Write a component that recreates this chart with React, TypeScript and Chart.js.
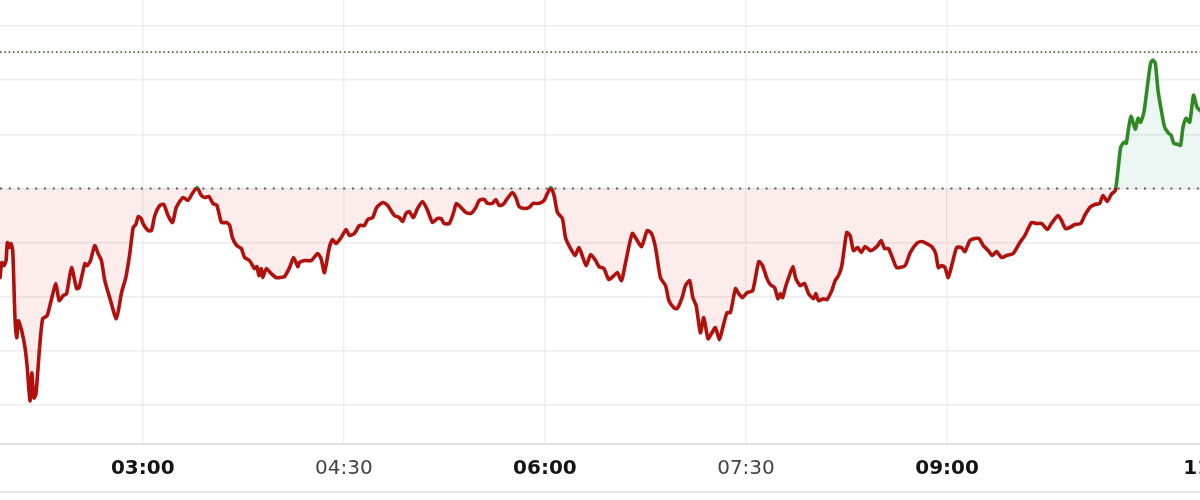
import { useEffect, useRef } from "react";
import { Chart, registerables } from "chart.js";

Chart.register(...registerables);

// time of day in minutes since midnight
const TIMES = [
  116.1, 116.9, 117.9, 118.8, 119.4, 120.3, 121.0, 121.8, 122.8, 123.6, 124.3, 125.8, 127.3, 128.3, 129.5, 130.3,
  131.3, 132.2, 133.7, 135.2, 137.2, 139.2, 141.1, 142.6, 144.4, 145.9, 148.1, 150.4, 151.5, 154.1, 155.1, 156.6,
  158.5, 160.0, 161.5, 163.0, 165.2, 168.2, 170.5, 172.4, 174.2, 175.7, 176.9, 178.0, 179.3, 180.1, 182.4, 183.9,
  185.4, 187.6, 189.4, 191.3, 193.3, 195.0, 198.0, 200.2, 202.2, 204.3, 206.2, 207.7, 209.6, 211.4, 213.2, 215.2,
  217.4, 218.9, 220.1, 222.1, 224.1, 225.6, 227.8, 230.0, 231.1, 232.0, 233.0, 233.7, 235.3, 237.5, 239.7, 241.2,
  243.4, 245.7, 247.5, 249.4, 250.1, 252.4, 255.4, 258.3, 259.8, 261.3, 263.5, 265.0, 266.5, 268.8, 271.0, 272.5,
  274.7, 277.0, 279.2, 280.7, 282.9, 284.7, 287.4, 289.6, 292.6, 294.8, 296.3, 297.8, 299.3, 301.1, 303.0, 305.2,
  307.5, 309.7, 311.9, 313.5, 314.9, 317.2, 319.0, 320.4, 322.4, 324.6, 326.9, 329.1, 330.6, 332.8, 334.3, 336.5,
  338.0, 339.5, 341.3, 343.2, 345.4, 347.0, 348.4, 350.7, 352.9, 354.7, 357.1, 359.6, 361.1, 362.6, 364.1, 365.6,
  367.8, 369.3, 371.5, 373.5, 375.2, 377.0, 378.5, 380.5, 382.7, 384.2, 386.4, 388.6, 390.9, 392.4, 394.3, 396.1,
  399.1, 401.3, 403.3, 405.8, 407.7, 409.5, 411.7, 414.0, 415.5, 417.7, 419.2, 421.4, 422.9, 424.8, 426.2, 427.7,
  429.6, 431.1, 433.0, 434.5, 436.3, 438.1, 439.6, 441.5, 443.0, 445.3, 446.7, 448.5, 450.4, 453.0, 455.7, 457.4,
  459.4, 460.9, 462.8, 464.3, 465.4, 466.4, 467.6, 469.1, 471.0, 472.3, 474.3, 476.2, 478.0, 480.2, 481.3, 482.5,
  484.7, 486.2, 488.4, 489.9, 491.4, 492.9, 495.1, 496.6, 498.1, 500.0, 501.6, 503.3, 505.6, 507.0, 509.0, 510.5,
  512.0, 513.8, 516.0, 517.5, 521.2, 523.5, 526.4, 528.6, 530.9, 533.1, 534.9, 536.1, 537.6, 539.1, 540.5, 542.3,
  544.3, 546.5, 548.0, 550.2, 552.5, 554.3, 556.2, 558.4, 560.2, 562.1, 564.4, 566.6, 569.6, 572.6, 574.8, 577.8,
  580.0, 582.3, 584.9, 586.7, 589.7, 591.2, 593.0, 594.9, 597.2, 599.8, 601.6, 603.9, 606.1, 608.3, 609.8, 611.7,
  613.5, 615.3, 616.5, 617.7, 619.2, 620.2, 621.3, 622.4, 624.2, 625.5, 626.6, 628.1, 629.6, 631.1, 632.1, 633.2,
  634.4, 635.9, 637.4, 639.2, 640.3, 641.5, 643.3, 644.5, 645.6, 647.0, 648.6, 650.3, 651.9, 654.0,
];

const PRICES = [
  49.11, 49.26, 49.23, 49.28, 49.46, 49.41, 49.45, 49.38, 48.71, 48.51, 48.68, 48.58, 48.41, 48.21, 47.88, 48.16,
  47.91, 47.95, 48.38, 48.70, 48.73, 48.90, 49.05, 48.88, 48.93, 48.95, 49.21, 49.00, 49.01, 49.25, 49.23, 49.28,
  49.43, 49.35, 49.28, 49.08, 48.91, 48.70, 48.96, 49.11, 49.35, 49.61, 49.64, 49.72, 49.70, 49.65, 49.58, 49.58,
  49.73, 49.83, 49.84, 49.73, 49.66, 49.81, 49.91, 49.88, 49.95, 50.01, 49.93, 49.91, 49.92, 49.85, 49.83, 49.66,
  49.66, 49.63, 49.51, 49.43, 49.40, 49.31, 49.28, 49.20, 49.22, 49.13, 49.20, 49.11, 49.20, 49.15, 49.11, 49.11,
  49.12, 49.21, 49.31, 49.22, 49.26, 49.28, 49.28, 49.35, 49.30, 49.16, 49.41, 49.49, 49.45, 49.51, 49.59, 49.53,
  49.55, 49.63, 49.63, 49.69, 49.71, 49.81, 49.86, 49.83, 49.73, 49.71, 49.67, 49.75, 49.77, 49.71, 49.80, 49.87,
  49.78, 49.66, 49.70, 49.70, 49.65, 49.65, 49.75, 49.85, 49.81, 49.76, 49.75, 49.81, 49.88, 49.89, 49.85, 49.85,
  49.89, 49.83, 49.84, 49.90, 49.96, 49.91, 49.82, 49.80, 49.81, 49.85, 49.85, 49.88, 49.95, 50.01, 49.93, 49.76,
  49.70, 49.50, 49.40, 49.33, 49.41, 49.31, 49.23, 49.34, 49.28, 49.22, 49.20, 49.09, 49.13, 49.16, 49.08, 49.26,
  49.55, 49.48, 49.42, 49.58, 49.55, 49.41, 49.11, 49.03, 48.88, 48.81, 48.80, 48.91, 49.03, 49.08, 48.91, 48.83,
  48.56, 48.71, 48.50, 48.55, 48.61, 48.49, 48.61, 48.76, 48.76, 49.00, 48.95, 48.91, 48.96, 48.98, 49.27, 49.23,
  49.10, 49.04, 49.01, 48.90, 48.95, 48.91, 49.01, 49.11, 49.22, 49.10, 49.03, 49.05, 48.95, 48.90, 48.95, 48.88,
  48.90, 48.89, 48.98, 49.08, 49.13, 49.23, 49.56, 49.53, 49.38, 49.41, 49.36, 49.42, 49.38, 49.39, 49.43, 49.48,
  49.40, 49.40, 49.28, 49.21, 49.23, 49.36, 49.45, 49.47, 49.45, 49.42, 49.35, 49.21, 49.23, 49.21, 49.11, 49.25,
  49.41, 49.41, 49.37, 49.48, 49.50, 49.50, 49.43, 49.38, 49.33, 49.37, 49.31, 49.33, 49.35, 49.46, 49.53, 49.66,
  49.65, 49.65, 49.59, 49.65, 49.73, 49.68, 49.60, 49.61, 49.64, 49.65, 49.73, 49.81, 49.84, 49.85, 49.93, 49.87,
  49.94, 49.98, 50.18, 50.41, 50.46, 50.45, 50.61, 50.72, 50.59, 50.70, 50.66, 50.76, 51.01, 51.25, 51.28, 51.25,
  50.98, 50.78, 50.61, 50.55, 50.53, 50.45, 50.44, 50.43, 50.61, 50.70, 50.66, 50.93, 50.81, 50.76,
];

const PREV_CLOSE = 50.0;
const REF_HIGH = 51.36;

const X_TICKS = [180, 270, 360, 450, 540, 660];
const BOLD_TICKS = [180, 360, 540, 660];
const Y_GRID = [47.84, 48.38, 48.92, 49.46, 50.0, 50.54, 51.08, 51.62];

const X_MIN = 116.1;
const X_MAX = 679.0;
const Y_MIN = 47.45;
const Y_MAX = 51.88;

const RED = "#b0110d";
const GREEN = "#2f8a26";

function fmt(v: number): string {
  const h = Math.floor(v / 60);
  const m = Math.round(v % 60);
  return `${String(h).padStart(2, "0")}:${String(m).padStart(2, "0")}`;
}

export default function App() {
  const ref = useRef<HTMLCanvasElement>(null);

  useEffect(() => {
    document.body.style.margin = "0";
    const canvas = ref.current!;
    const mainData = TIMES.map((t, i) => ({ x: t, y: PRICES[i] }));
    const chart = new Chart(canvas, {
      type: "line",
      data: {
        datasets: [
          {
            data: mainData,
            borderWidth: 3.6,
            pointRadius: 0,
            tension: 0.2,
            borderJoinStyle: "round",
            borderCapStyle: "round",
            borderColor: (c: any) => {
              const chartObj = c.chart;
              const area = chartObj.chartArea;
              if (!area) return RED;
              const yb = chartObj.scales.y.getPixelForValue(PREV_CLOSE);
              const g = chartObj.ctx.createLinearGradient(0, area.top, 0, area.bottom);
              const f = Math.min(1, Math.max(0, (yb - area.top) / (area.bottom - area.top)));
              g.addColorStop(0, GREEN);
              g.addColorStop(f, GREEN);
              g.addColorStop(f, RED);
              g.addColorStop(1, RED);
              return g;
            },
            fill: {
              target: { value: PREV_CLOSE },
              above: "rgba(40, 150, 125, 0.09)",
              below: "rgba(235, 40, 40, 0.09)",
            },
          } as any,
          {
            data: [
              { x: X_MIN, y: REF_HIGH },
              { x: X_MAX, y: REF_HIGH },
            ],
            borderColor: "#4a6e38",
            borderWidth: 1.6,
            borderDash: [1.6, 2.7],
            pointRadius: 0,
            fill: false,
          },
          {
            data: [
              { x: X_MIN, y: PREV_CLOSE },
              { x: X_MAX, y: PREV_CLOSE },
            ],
            borderColor: "#5c5c5c",
            borderWidth: 2,
            borderDash: [2, 6.8],
            pointRadius: 0,
            fill: false,
          },
        ],
      },
      options: {
        responsive: false,
        animation: false,
        devicePixelRatio: 1,
        layout: { padding: { left: 0, right: 0, top: 0, bottom: 6 } },
        plugins: {
          legend: { display: false },
          tooltip: { enabled: false },
          filler: { drawTime: "beforeDatasetsDraw" } as any,
        },
        scales: {
          x: {
            type: "linear",
            min: X_MIN,
            max: X_MAX,
            afterBuildTicks: (s: any) => {
              s.ticks = X_TICKS.map((v) => ({ value: v }));
            },
            ticks: {
              autoSkip: false,
              maxRotation: 0,
              padding: 13,
              callback: (v: any) => fmt(Number(v)),
              font: (c: any) => ({
                family: "'DejaVu Sans', sans-serif",
                size: 20,
                weight: c.tick && BOLD_TICKS.includes(c.tick.value) ? "bold" : "normal",
              }),
              color: (c: any) => (c.tick && BOLD_TICKS.includes(c.tick.value) ? "#141414" : "#444444"),
            },
            grid: { color: "#efefef", lineWidth: 1.5, drawTicks: false },
            border: { display: true, color: "#e0e0e0", width: 2 },
          },
          y: {
            type: "linear",
            position: "right",
            min: Y_MIN,
            max: Y_MAX,
            afterBuildTicks: (s: any) => {
              s.ticks = Y_GRID.map((v) => ({ value: v }));
            },
            ticks: { display: false },
            grid: { color: "#ececec", lineWidth: 1.5, drawTicks: false },
            border: { display: false },
          },
        },
      },
    });
    return () => chart.destroy();
  }, []);

  return (
    <div
      style={{
        position: "fixed",
        left: 0,
        top: 0,
        width: 1200,
        height: 500,
        overflow: "hidden",
        background: "#ffffff",
      }}
    >
      <canvas
        ref={ref}
        width={1260}
        height={500}
        style={{ position: "absolute", left: 0, top: 0, width: 1260, height: 500 }}
      />
      <div
        style={{ position: "absolute", left: 0, top: 491, width: 1200, height: 2, background: "#e6e6e6" }}
      />
    </div>
  );
}
